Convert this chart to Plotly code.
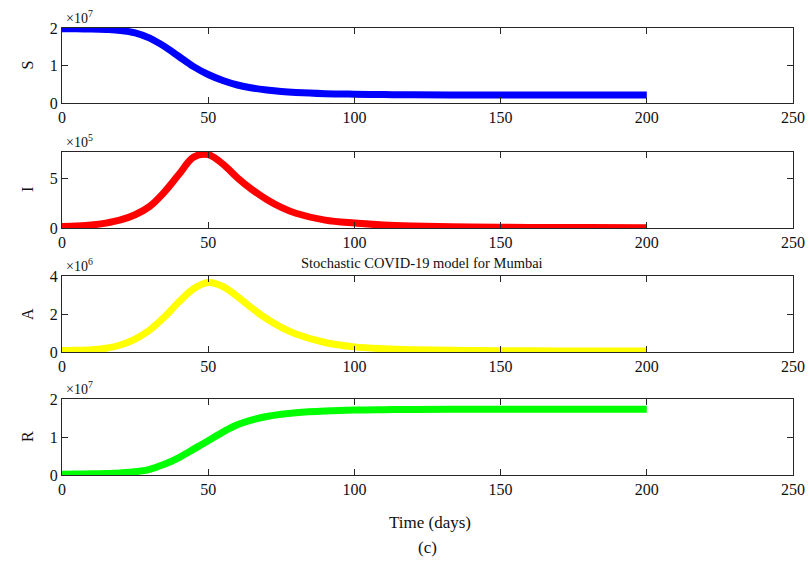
import plotly.graph_objects as go

days = [0, 5, 10, 15, 20, 25, 30, 35, 40, 45, 50, 55, 60, 65, 70, 75, 80, 90, 100, 110, 120, 140, 160, 180, 200]

S = [1.98e7, 1.978e7, 1.972e7, 1.96e7, 1.935e7, 1.87e7, 1.73e7, 1.51e7, 1.24e7, 0.97e7, 0.76e7,
     0.60e7, 0.48e7, 0.40e7, 0.345e7, 0.305e7, 0.28e7, 0.25e7, 0.235e7, 0.225e7, 0.22e7, 0.215e7, 0.213e7, 0.212e7, 0.212e7]
I = [0.15e5, 0.2e5, 0.3e5, 0.5e5, 0.82e5, 1.35e5, 2.2e5, 3.65e5, 5.45e5, 7.2e5, 7.45e5,
     6.5e5, 5.1e5, 3.9e5, 2.9e5, 2.1e5, 1.5e5, 0.8e5, 0.5e5, 0.3e5, 0.2e5, 0.1e5, 0.06e5, 0.04e5, 0.03e5]
A = [0.08e6, 0.09e6, 0.12e6, 0.2e6, 0.37e6, 0.68e6, 1.16e6, 1.84e6, 2.64e6, 3.33e6, 3.66e6,
     3.45e6, 2.92e6, 2.3e6, 1.75e6, 1.3e6, 0.95e6, 0.5e6, 0.27e6, 0.17e6, 0.12e6, 0.08e6, 0.06e6, 0.05e6, 0.05e6]
R = [0.02e7, 0.024e7, 0.03e7, 0.04e7, 0.055e7, 0.085e7, 0.15e7, 0.28e7, 0.46e7, 0.68e7, 0.9e7,
     1.13e7, 1.32e7, 1.45e7, 1.54e7, 1.6e7, 1.64e7, 1.685e7, 1.71e7, 1.72e7, 1.725e7, 1.73e7, 1.73e7, 1.73e7, 1.73e7]

series = [
    ("S", S, "#0000ff", [0, 2e7], [0, 1e7, 2e7], ["0", "1", "2"], "×10<sup>7</sup>"),
    ("I", I, "#ff0000", [0, 7.72e5], [0, 5e5], ["0", "5"], "×10<sup>5</sup>"),
    ("A", A, "#ffff00", [0, 4e6], [0, 2e6, 4e6], ["0", "2", "4"], "×10<sup>6</sup>"),
    ("R", R, "#00ff00", [0, 2e7], [0, 1e7, 2e7], ["0", "1", "2"], "×10<sup>7</sup>"),
]
xticks = [0, 50, 100, 150, 200, 250]

W, H = 809, 564


def px(x):
    return x / W


def py(y):
    return 1 - y / H


boxes = [(28, 103), (152, 228), (276, 352), (399, 475)]
x0px, x1px = 62, 793
FONT = "Liberation Serif, Times New Roman, serif"
AX = "#262626"

fig = go.Figure()
annotations = []
for k, (name, vals, col, rng, tv, tt, expo) in enumerate(series):
    i = k + 1
    xa = "x" if i == 1 else f"x{i}"
    ya = "y" if i == 1 else f"y{i}"
    fig.add_trace(go.Scatter(x=days, y=vals, mode="lines", line=dict(color=col, width=7, shape="spline", smoothing=1.0),
                             xaxis=xa, yaxis=ya, showlegend=False, hoverinfo="skip"))
    top, bot = boxes[k]
    dom = [py(bot), py(top)]
    common = dict(showline=True, linecolor=AX, linewidth=1, mirror="ticks", ticks="inside",
                  ticklen=6, tickcolor=AX, tickwidth=1, showgrid=False, zeroline=False, automargin=False,
                  tickfont=dict(family=FONT, size=16, color="#111"))
    fig.layout[f"xaxis{'' if i == 1 else i}"] = dict(domain=[px(x0px), px(x1px)], range=[0, 250],
                                                     tickvals=xticks, anchor=ya, **common)
    fig.layout[f"yaxis{'' if i == 1 else i}"] = dict(domain=dom, range=rng, tickvals=tv, ticktext=tt,
                                                     anchor=xa, **common)
    annotations.append(dict(text=expo, x=px(64), y=py(top), xref="paper", yref="paper",
                            xanchor="left", yanchor="bottom", showarrow=False,
                            font=dict(family=FONT, size=14, color="#111")))
    annotations.append(dict(text=name, x=px(27), y=py((top + bot) / 2), xref="paper", yref="paper",
                            xanchor="center", yanchor="middle", showarrow=False, textangle=-90,
                            font=dict(family=FONT, size=16, color="#111")))

annotations.append(dict(text="Stochastic COVID-19 model for Mumbai", x=px(422), y=py(263),
                        xref="paper", yref="paper", xanchor="center", yanchor="middle", showarrow=False,
                        font=dict(family=FONT, size=14.5, color="#111")))
annotations.append(dict(text="Time (days)", x=px(430), y=py(522), xref="paper", yref="paper",
                        xanchor="center", yanchor="middle", showarrow=False,
                        font=dict(family=FONT, size=17, color="#111")))
annotations.append(dict(text="(c)", x=px(427), y=py(547), xref="paper", yref="paper",
                        xanchor="center", yanchor="middle", showarrow=False,
                        font=dict(family=FONT, size=17, color="#111")))

fig.update_layout(width=W, height=H, margin=dict(l=0, r=0, t=0, b=0), paper_bgcolor="white",
                  plot_bgcolor="white", annotations=annotations, showlegend=False)

fig.write_html("out.html", config={"displayModeBar": False},
               post_script="document.body.style.margin='0';document.body.style.overflow='hidden';")
